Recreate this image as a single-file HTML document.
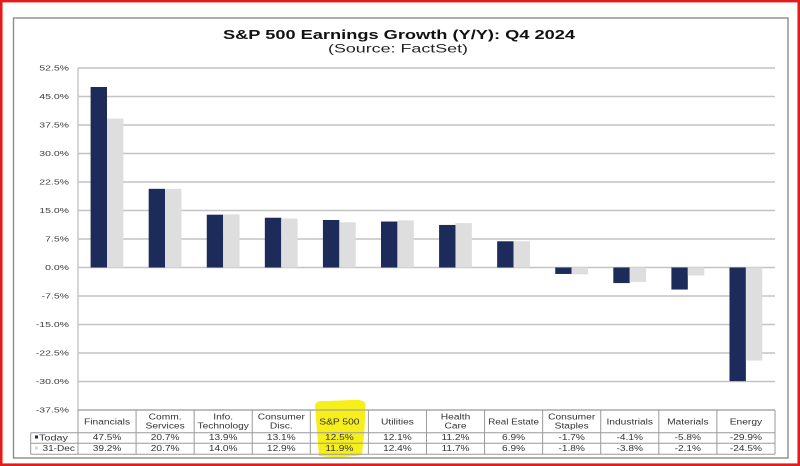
<!DOCTYPE html>
<html><head><meta charset="utf-8"><style>
html,body{margin:0;padding:0;background:#fff;}
svg{display:block;}
text{font-family:"Liberation Sans",Arial,sans-serif;}
</style></head><body>
<svg width="800" height="466" viewBox="0 0 800 466" xmlns="http://www.w3.org/2000/svg">
<rect x="0" y="0" width="800" height="466" fill="#fff"/>
<!-- red frame -->
<rect x="1.25" y="1.1" width="797.5" height="463.6" fill="none" stroke="#e41b1b" stroke-width="2.6"/>
<!-- gray box -->
<rect x="13.5" y="18" width="774.5" height="440" fill="none" stroke="#8c8c8c" stroke-width="1.4"/>

<!-- title -->
<text x="223" y="39" font-size="12.6" font-weight="bold" fill="#111" textLength="352" lengthAdjust="spacingAndGlyphs">S&amp;P 500 Earnings Growth (Y/Y): Q4 2024</text>
<text x="328" y="52.7" font-size="11.8" fill="#222" textLength="140" lengthAdjust="spacingAndGlyphs">(Source: FactSet)</text>

<!-- gridlines -->
<g stroke="#c4c4c4" stroke-width="1.4">
<line x1="78" x2="775" y1="68" y2="68"/>
<line x1="78" x2="775" y1="96.5" y2="96.5"/>
<line x1="78" x2="775" y1="125" y2="125"/>
<line x1="78" x2="775" y1="153.5" y2="153.5"/>
<line x1="78" x2="775" y1="182" y2="182"/>
<line x1="78" x2="775" y1="210.5" y2="210.5"/>
<line x1="78" x2="775" y1="239" y2="239"/>
<line x1="78" x2="775" y1="267.5" y2="267.5"/>
<line x1="78" x2="775" y1="296" y2="296"/>
<line x1="78" x2="775" y1="324.5" y2="324.5"/>
<line x1="78" x2="775" y1="353" y2="353"/>
<line x1="78" x2="775" y1="381.5" y2="381.5"/>
<line x1="78" x2="775" y1="410" y2="410"/>
<line x1="78" x2="78" y1="68" y2="410"/>
</g>

<!-- y tick labels -->
<g font-size="7.5" fill="#3a3a3a" text-anchor="end">
<text transform="translate(69,70.7) scale(1.4,1)">52.5%</text>
<text transform="translate(69,99.2) scale(1.4,1)">45.0%</text>
<text transform="translate(69,127.7) scale(1.4,1)">37.5%</text>
<text transform="translate(69,156.2) scale(1.4,1)">30.0%</text>
<text transform="translate(69,184.7) scale(1.4,1)">22.5%</text>
<text transform="translate(69,213.2) scale(1.4,1)">15.0%</text>
<text transform="translate(69,241.7) scale(1.4,1)">7.5%</text>
<text transform="translate(69,270.2) scale(1.4,1)">0.0%</text>
<text transform="translate(69,298.7) scale(1.4,1)">-7.5%</text>
<text transform="translate(69,327.2) scale(1.4,1)">-15.0%</text>
<text transform="translate(69,355.7) scale(1.4,1)">-22.5%</text>
<text transform="translate(69,384.2) scale(1.4,1)">-30.0%</text>
<text transform="translate(69,412.7) scale(1.4,1)">-37.5%</text>
</g>

<!-- bars: Today -->
<g fill="#1c2b5a">
<rect x="90.6" y="87" width="16.4" height="180.5"/>
<rect x="148.68" y="188.84" width="16.4" height="78.66"/>
<rect x="206.76" y="214.68" width="16.4" height="52.82"/>
<rect x="264.84" y="217.72" width="16.4" height="49.78"/>
<rect x="322.92" y="220" width="16.4" height="47.5"/>
<rect x="381" y="221.52" width="16.4" height="45.98"/>
<rect x="439.08" y="224.94" width="16.4" height="42.56"/>
<rect x="497.16" y="241.28" width="16.4" height="26.22"/>
<rect x="555.24" y="267.5" width="16.4" height="6.46"/>
<rect x="613.32" y="267.5" width="16.4" height="15.58"/>
<rect x="671.4" y="267.5" width="16.4" height="22.04"/>
<rect x="729.48" y="267.5" width="16.4" height="113.62"/>
</g>
<!-- bars: 31-Dec -->
<g fill="#dedede">
<rect x="107" y="118.54" width="16.4" height="148.96"/>
<rect x="165.08" y="188.84" width="16.4" height="78.66"/>
<rect x="223.16" y="214.3" width="16.4" height="53.2"/>
<rect x="281.24" y="218.48" width="16.4" height="49.02"/>
<rect x="339.32" y="222.28" width="16.4" height="45.22"/>
<rect x="397.4" y="220.38" width="16.4" height="47.12"/>
<rect x="455.48" y="223.04" width="16.4" height="44.46"/>
<rect x="513.56" y="241.28" width="16.4" height="26.22"/>
<rect x="571.64" y="267.5" width="16.4" height="6.84"/>
<rect x="629.72" y="267.5" width="16.4" height="14.44"/>
<rect x="687.8" y="267.5" width="16.4" height="7.98"/>
<rect x="745.88" y="267.5" width="16.4" height="93.1"/>
</g>

<!-- yellow highlight -->
<path d="M315,405 Q316,400 326,401 L352,400 Q364,399 365.5,404 L364.5,430 L362,455 Q340,458.5 319,456 L317,432 Z" fill="#f6ef1c"/>

<!-- table lines -->
<g stroke="#9a9a9a" stroke-width="1" fill="none">
<line x1="78" x2="775" y1="410" y2="410"/>
<line x1="30.7" x2="775" y1="432.7" y2="432.7"/>
<line x1="30.7" x2="775" y1="443.3" y2="443.3"/>
<line x1="30.7" x2="775" y1="454.3" y2="454.3"/>
<line x1="30.7" x2="30.7" y1="432.7" y2="454.3"/>
<line x1="78" x2="78" y1="410" y2="454.3"/>
<line x1="136.08" x2="136.08" y1="410" y2="454.3"/>
<line x1="194.16" x2="194.16" y1="410" y2="454.3"/>
<line x1="252.24" x2="252.24" y1="410" y2="454.3"/>
<line x1="310.32" x2="310.32" y1="410" y2="454.3"/>
<line x1="368.4" x2="368.4" y1="410" y2="454.3"/>
<line x1="426.48" x2="426.48" y1="410" y2="454.3"/>
<line x1="484.56" x2="484.56" y1="410" y2="454.3"/>
<line x1="542.64" x2="542.64" y1="410" y2="454.3"/>
<line x1="600.72" x2="600.72" y1="410" y2="454.3"/>
<line x1="658.8" x2="658.8" y1="410" y2="454.3"/>
<line x1="716.88" x2="716.88" y1="410" y2="454.3"/>
<line x1="775" x2="775" y1="410" y2="454.3"/>
</g>

<!-- header labels -->
<g font-size="8" fill="#333" text-anchor="middle">
<text transform="translate(107.04,424.3) scale(1.28,1)">Financials</text>
<text transform="translate(165.12,419.3) scale(1.28,1)">Comm.</text>
<text transform="translate(165.12,428.3) scale(1.28,1)">Services</text>
<text transform="translate(223.2,419.3) scale(1.28,1)">Info.</text>
<text transform="translate(223.2,428.3) scale(1.27,1)">Technology</text>
<text transform="translate(281.28,419.3) scale(1.28,1)">Consumer</text>
<text transform="translate(281.28,428.3) scale(1.28,1)">Disc.</text>
<text transform="translate(339.36,424.3) scale(1.28,1)">S&amp;P 500</text>
<text transform="translate(397.44,424.3) scale(1.28,1)">Utilities</text>
<text transform="translate(455.52,419.3) scale(1.28,1)">Health</text>
<text transform="translate(455.52,428.3) scale(1.28,1)">Care</text>
<text transform="translate(513.6,424.3) scale(1.23,1)">Real Estate</text>
<text transform="translate(571.68,419.3) scale(1.28,1)">Consumer</text>
<text transform="translate(571.68,428.3) scale(1.28,1)">Staples</text>
<text transform="translate(629.76,424.3) scale(1.28,1)">Industrials</text>
<text transform="translate(687.84,424.3) scale(1.28,1)">Materials</text>
<text transform="translate(745.92,424.3) scale(1.28,1)">Energy</text>
</g>

<!-- legend column -->
<rect x="35" y="435.5" width="3" height="3" fill="#1c2b5a"/>
<rect x="35" y="446.5" width="3" height="3" fill="#d8d8d8"/>
<g font-size="8" fill="#333">
<text transform="translate(39,440.3) scale(1.36,1)">Today</text>
<text transform="translate(42.5,451) scale(1.26,1)">31-Dec</text>
</g>

<!-- values -->
<g font-size="7.8" fill="#333" text-anchor="middle">
<text transform="translate(107.04,440.2) scale(1.3,1)">47.5%</text>
<text transform="translate(165.12,440.2) scale(1.3,1)">20.7%</text>
<text transform="translate(223.2,440.2) scale(1.3,1)">13.9%</text>
<text transform="translate(281.28,440.2) scale(1.3,1)">13.1%</text>
<text transform="translate(339.36,440.2) scale(1.3,1)">12.5%</text>
<text transform="translate(397.44,440.2) scale(1.3,1)">12.1%</text>
<text transform="translate(455.52,440.2) scale(1.3,1)">11.2%</text>
<text transform="translate(513.6,440.2) scale(1.3,1)">6.9%</text>
<text transform="translate(571.68,440.2) scale(1.3,1)">-1.7%</text>
<text transform="translate(629.76,440.2) scale(1.3,1)">-4.1%</text>
<text transform="translate(687.84,440.2) scale(1.3,1)">-5.8%</text>
<text transform="translate(745.92,440.2) scale(1.3,1)">-29.9%</text>

<text transform="translate(107.04,451) scale(1.3,1)">39.2%</text>
<text transform="translate(165.12,451) scale(1.3,1)">20.7%</text>
<text transform="translate(223.2,451) scale(1.3,1)">14.0%</text>
<text transform="translate(281.28,451) scale(1.3,1)">12.9%</text>
<text transform="translate(339.36,451) scale(1.3,1)">11.9%</text>
<text transform="translate(397.44,451) scale(1.3,1)">12.4%</text>
<text transform="translate(455.52,451) scale(1.3,1)">11.7%</text>
<text transform="translate(513.6,451) scale(1.3,1)">6.9%</text>
<text transform="translate(571.68,451) scale(1.3,1)">-1.8%</text>
<text transform="translate(629.76,451) scale(1.3,1)">-3.8%</text>
<text transform="translate(687.84,451) scale(1.3,1)">-2.1%</text>
<text transform="translate(745.92,451) scale(1.3,1)">-24.5%</text>
</g>
</svg>
</body></html>
